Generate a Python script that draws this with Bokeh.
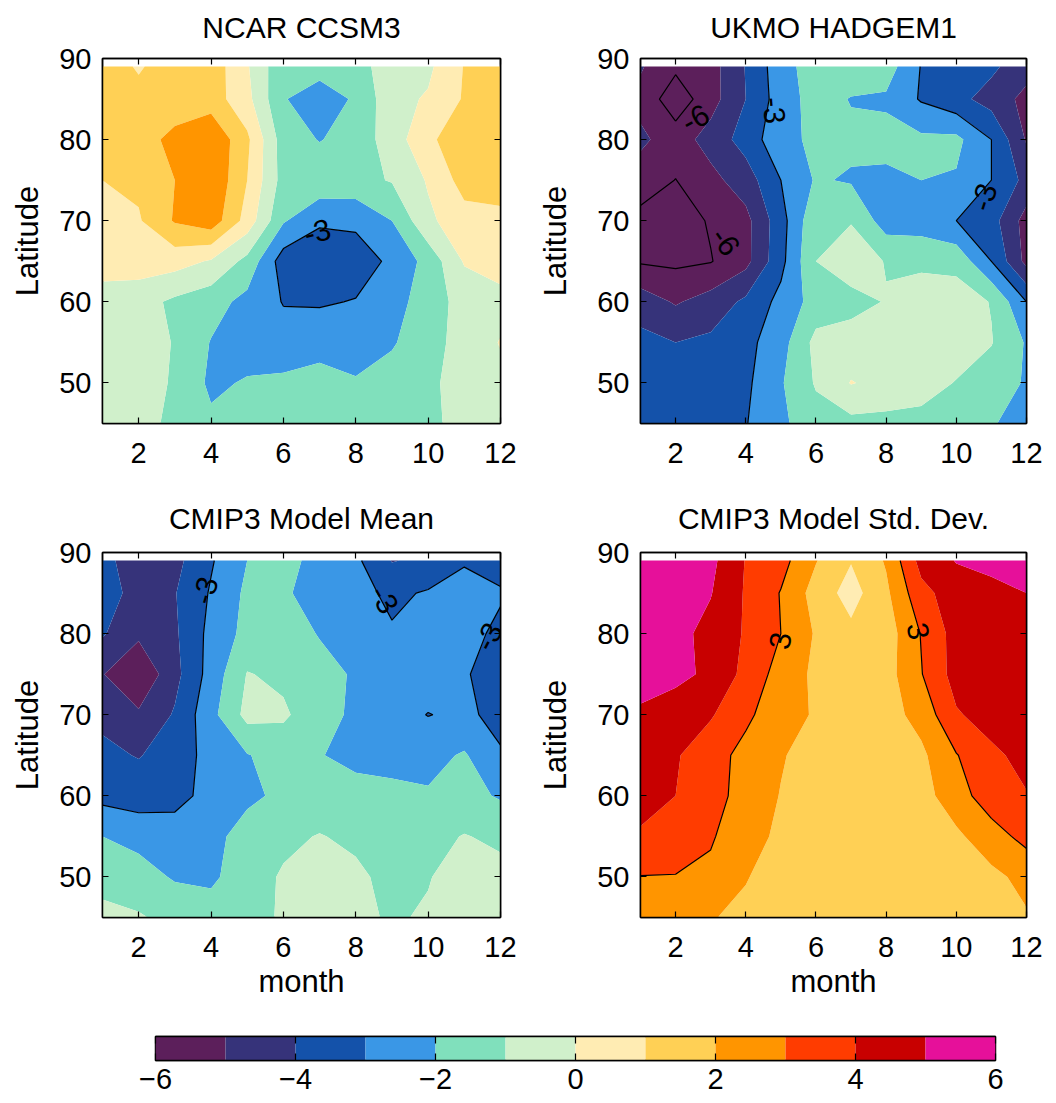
import numpy as np
from bokeh.plotting import figure
from bokeh.models import Range1d, LinearAxis, FixedTicker, CustomLabelingPolicy
from bokeh.layouts import column, row
from bokeh.embed import file_html
from bokeh.resources import INLINE
from bokeh.core.properties import value, field

# ---------------- data ----------------
months = [1, 2, 3, 4, 5, 6, 7, 8, 9, 10, 11, 12]
lats = [45, 50, 55, 60, 65, 70, 75, 80, 85, 89]

# rows follow lats (45 -> 89), columns follow months (1 -> 12)
ncar_ccsm3 = [
    [-0.3, -0.7, -1.2, -1.8, -1.5, -1.4, -1.3, -1.4, -1.3, -1.2, -0.7, -0.4],
    [-0.4, -0.6, -1.1, -2.2, -1.9, -1.8, -1.6, -1.9, -1.6, -1.2, -0.6, -0.2],
    [-0.4, -0.6, -1.05, -2.05, -2.5, -2.6, -2.4, -2.5, -2.1, -1.4, -0.6, 0.05],
    [-0.5, -0.6, -1.2, -1.6, -2.3, -3.05, -3.1, -2.95, -2.5, -1.4, -0.7, -0.3],
    [0.5, 0.5, 0.4, -0.1, -1.3, -3.5, -3.7, -3.5, -2.8, -1.66, 0.1, 0.4],
    [0.5, 0.9, 2.1, 2.6, 0.6, -1.9, -2.85, -2.8, -2.0, -0.2, 0.6, 0.6],
    [1.0, 1.2, 2.0, 2.9, 1.0, -1.4, -1.3, -1.3, -0.93, 0.1, 1.4, 1.7],
    [1.5, 1.7, 2.2, 2.9, 1.2, -1.5, -2.05, -1.6, -0.5, 0.75, 1.8, 1.7],
    [1.6, 1.3, 1.6, 1.5, 0.3, -1.95, -2.4, -1.9, -0.3, 0.1, 1.1, 1.7],
    [1.5, 0.9, 1.5, 1.6, 0.1, -1.8, -1.7, -1.3, -0.6, -0.2, 1.05, 1.6],
]

ukmo_hadgem1 = [
    [-3.6, -3.5, -3.4, -3.05, -2.2, -1.4, -1.3, -1.3, -1.3, -1.4, -1.9, -2.5],
    [-3.6, -3.6, -3.5, -3.2, -2.1, -0.9, 0.05, -0.3, -0.6, -1.05, -1.5, -2.1],
    [-3.7, -4.0, -3.8, -3.3, -2.4, -0.7, -0.6, -0.4, -0.3, -0.5, -0.95, -2.1],
    [-4.5, -5.1, -4.6, -3.8, -2.7, -1.6, -1.3, -0.95, -0.5, -0.5, -1.05, -3.0],
    [-6.1, -6.2, -6.05, -5.3, -3.3, -1.0, -0.5, -1.05, -1.2, -1.3, -3.0, -5.3],
    [-6.3, -6.5, -5.9, -5.3, -3.4, -1.2, -1.05, -2.5, -2.5, -3.0, -3.6, -5.4],
    [-5.5, -6.02, -5.3, -4.5, -3.0, -1.9, -2.1, -2.2, -2.0, -2.1, -3.0, -4.3],
    [-4.8, -5.5, -4.6, -3.6, -2.3, -1.8, -1.8, -1.7, -1.8, -1.75, -3.0, -5.1],
    [-5.3, -6.6, -5.4, -4.0, -2.5, -1.6, -2.05, -2.15, -3.1, -3.7, -4.4, -5.3],
    [-4.9, -5.8, -5.4, -3.95, -2.4, -1.5, -1.4, -1.5, -3.05, -3.6, -3.8, -4.6],
]

cmip3_mean = [
    [-0.6, -0.9, -1.3, -1.5, -1.3, -0.9, -0.7, -0.8, -1.1, -0.9, -0.5, -0.6],
    [-1.5, -1.6, -2.1, -2.2, -1.4, -0.9, -0.6, -0.8, -1.3, -1.05, -0.6, -0.7],
    [-2.0, -2.3, -2.4, -2.3, -1.6, -1.2, -0.95, -1.2, -1.4, -1.3, -0.95, -1.2],
    [-3.3, -3.5, -3.4, -2.6, -2.2, -1.8, -1.6, -1.6, -1.7, -1.9, -1.7, -2.1],
    [-3.8, -4.05, -3.6, -2.6, -2.05, -1.6, -1.95, -2.3, -2.4, -2.3, -1.9, -2.9],
    [-4.2, -4.85, -3.9, -2.3, -0.7, -0.85, -1.6, -2.2, -2.6, -3.03, -2.8, -3.3],
    [-4.95, -5.9, -4.3, -2.6, -0.95, -1.2, -1.7, -2.1, -2.5, -2.5, -2.9, -3.5],
    [-3.9, -4.8, -4.15, -2.7, -1.7, -1.6, -2.05, -2.5, -2.9, -2.6, -2.7, -3.2],
    [-3.5, -4.4, -4.05, -2.9, -1.8, -1.9, -2.3, -2.7, -3.2, -2.9, -2.8, -2.9],
    [-3.5, -4.9, -4.3, -3.1, -2.0, -1.7, -2.3, -2.8, -4.05, -3.8, -3.05, -3.4],
]

cmip3_std = [
    [2.6, 2.4, 2.05, 1.8, 1.5, 1.2, 1.1, 1.1, 1.2, 1.4, 1.6, 1.9],
    [2.97, 2.95, 2.8, 2.05, 1.6, 1.2, 1.1, 1.1, 1.2, 1.5, 1.75, 2.3],
    [3.9, 3.7, 3.1, 2.4, 1.8, 1.3, 1.1, 1.1, 1.3, 1.8, 2.6, 3.3],
    [4.3, 4.0, 3.3, 2.7, 1.95, 1.4, 1.1, 1.2, 1.6, 2.6, 3.5, 3.95],
    [4.5, 4.1, 3.4, 2.7, 2.1, 1.5, 1.2, 1.3, 1.8, 2.95, 3.8, 4.3],
    [4.85, 4.6, 4.1, 3.2, 2.4, 1.9, 1.2, 1.6, 2.35, 3.9, 4.4, 4.6],
    [5.4, 5.2, 4.85, 3.7, 2.6, 1.8, 1.4, 1.6, 2.95, 4.4, 4.7, 4.8],
    [5.5, 5.3, 4.7, 3.9, 3.0, 1.9, 1.25, 1.5, 3.05, 4.4, 4.6, 4.8],
    [5.6, 5.4, 5.05, 3.9, 2.95, 1.6, 0.6, 1.8, 3.7, 4.5, 4.85, 5.0],
    [5.7, 5.6, 5.25, 3.95, 3.35, 2.05, 1.05, 2.1, 4.35, 5.05, 5.15, 5.6],
]

panel_titles = ["NCAR CCSM3", "UKMO HADGEM1", "CMIP3 Model Mean", "CMIP3 Model Std. Dev."]

fill_levels = [-6, -5, -4, -3, -2, -1, 0, 1, 2, 3, 4, 5, 6]
line_levels = [-6, -3, 3, 6]
palette = ["#5C1F5B", "#36337A", "#1452AA", "#3A97E6", "#80E0BC", "#D0F0CB",
           "#FFECB3", "#FFD055", "#FF9500", "#FF3C00", "#C80000", "#E6109A"]

x_ticks = [2, 4, 6, 8, 10, 12]
y_ticks = [50, 60, 70, 80, 90]
cbar_ticks = [-6, -4, -2, 0, 2, 4, 6]
cbar_tick_labels = ["\u22126", "\u22124", "\u22122", "0", "2", "4", "6"]

# inline contour labels: (month, latitude, text, angle in degrees)
contour_labels = [
    [(6.94, 68.6, "-3", 14)],
    [(2.57, 82.6, "-6", 28), (3.42, 67.4, "-6", -55), (4.8, 83.6, "-3", -85), (10.8, 72.9, "-3", 72)],
    [(3.85, 85.3, "-3", 74), (8.78, 84.2, "-3", -60), (11.68, 79.6, "-3", 62)],
    [(4.99, 79.1, "3", 80), (8.9, 80.3, "3", -80)],
]

FONT = "Liberation Sans"
TICK_FS = "29px"
TITLE_FS = "30px"
LABEL_FS = "31px"


def style_axis(ax, labels=True):
    ax.axis_line_color = "black"
    ax.axis_line_width = 1.5
    ax.major_tick_line_color = "black"
    ax.major_tick_line_width = 1.2
    ax.major_tick_in = 6
    ax.major_tick_out = 0
    ax.minor_tick_in = 0
    ax.minor_tick_out = 0
    ax.major_label_text_font = FONT
    ax.major_label_text_color = "black"
    if labels:
        ax.major_label_text_font_size = TICK_FS
    else:
        ax.major_label_text_font_size = "1px"
        ax.major_label_standoff = 0
        ax.major_label_policy = CustomLabelingPolicy(code="return []")


def make_panel(idx, z, left_border, right_border, top_border, bottom_border, fw, xlabel,
               ylabel_standoff, title_standoff):
    p = figure(frame_width=fw, frame_height=365,
               x_range=Range1d(1, 12), y_range=Range1d(45, 90),
               output_backend="svg", toolbar_location=None,
               min_border_left=left_border, min_border_right=right_border,
               min_border_top=top_border, min_border_bottom=bottom_border,
               background_fill_color="white", border_fill_color="white")
    p.grid.visible = False
    p.outline_line_color = "black"
    p.outline_line_width = 1.5

    zarr = np.array(z, dtype=float)
    zfill = np.clip(zarr, -5.999, 5.999)
    cr = p.contour(months, lats, zfill, levels=fill_levels, fill_color=palette)
    ds = cr.fill_renderer.data_source
    if "fill_color" in ds.data:
        cr.fill_renderer.glyph.line_color = field("fill_color")
        cr.fill_renderer.glyph.line_width = 0.8
    p.contour(months, lats, zarr, levels=line_levels, line_color="black", line_width=1.2)

    labs = contour_labels[idx]
    p.text(x=[l[0] for l in labs], y=[l[1] for l in labs], text=[l[2] for l in labs],
           angle=[np.deg2rad(l[3]) for l in labs],
           text_font=value(FONT), text_font_size=value("30px"), text_color="black",
           text_align="center", text_baseline="middle")

    p.title.text = panel_titles[idx]
    p.title.align = "center"
    p.title.vertical_align = "top"
    p.title.text_font = FONT
    p.title.text_font_size = TITLE_FS
    p.title.text_font_style = "normal"
    p.title.text_color = "black"
    p.title.standoff = title_standoff

    p.xaxis.ticker = FixedTicker(ticks=x_ticks)
    p.yaxis.ticker = FixedTicker(ticks=y_ticks)
    style_axis(p.xaxis[0])
    style_axis(p.yaxis[0])
    p.xaxis.major_label_standoff = 19
    p.yaxis.major_label_standoff = 11
    p.yaxis.axis_label = "Latitude"
    p.yaxis.axis_label_standoff = ylabel_standoff
    for ax in (p.xaxis[0], p.yaxis[0]):
        ax.axis_label_text_font = FONT
        ax.axis_label_text_font_size = LABEL_FS
        ax.axis_label_text_font_style = "normal"
        ax.axis_label_text_color = "black"
    if xlabel:
        p.xaxis.axis_label = "month"
        p.xaxis.axis_label_standoff = 4

    top = LinearAxis(ticker=FixedTicker(ticks=x_ticks))
    style_axis(top, labels=False)
    p.add_layout(top, "above")
    right = LinearAxis(ticker=FixedTicker(ticks=y_ticks))
    style_axis(right, labels=False)
    p.add_layout(right, "right")
    return p


p1 = make_panel(0, ncar_ccsm3, 102, 22, 58, 64, 398, False, 11, 18)
p2 = make_panel(1, ukmo_hadgem1, 118, 20, 58, 64, 386, False, 21, 18)
p3 = make_panel(2, cmip3_mean, 102, 22, 65, 93, 398, True, 11, 23)
p4 = make_panel(3, cmip3_std, 118, 20, 65, 93, 386, True, 21, 23)

# colorbar
cb = figure(frame_width=840, frame_height=24, x_range=Range1d(-6, 6), y_range=Range1d(0, 1),
            output_backend="svg", toolbar_location=None,
            min_border_left=155, min_border_right=40, min_border_top=26, min_border_bottom=41)
cb.grid.visible = False
cb.yaxis.visible = False
cb.outline_line_color = "black"
cb.outline_line_width = 1.5
cb.quad(left=fill_levels[:-1], right=fill_levels[1:], bottom=0, top=1,
        fill_color=palette, line_color=None)
cb.xaxis.ticker = FixedTicker(ticks=cbar_ticks)
cb.xaxis.major_label_overrides = dict(zip(cbar_ticks, cbar_tick_labels))
style_axis(cb.xaxis[0])
cb.xaxis.major_tick_in = 7
cb.xaxis.major_label_standoff = 8
cbtop = LinearAxis(ticker=FixedTicker(ticks=cbar_ticks))
style_axis(cbtop, labels=False)
cbtop.major_tick_in = 7
cb.add_layout(cbtop, "above")

layout = column(row(p1, p2), row(p3, p4), cb)
open("out.html", "w").write(file_html(layout, INLINE))
